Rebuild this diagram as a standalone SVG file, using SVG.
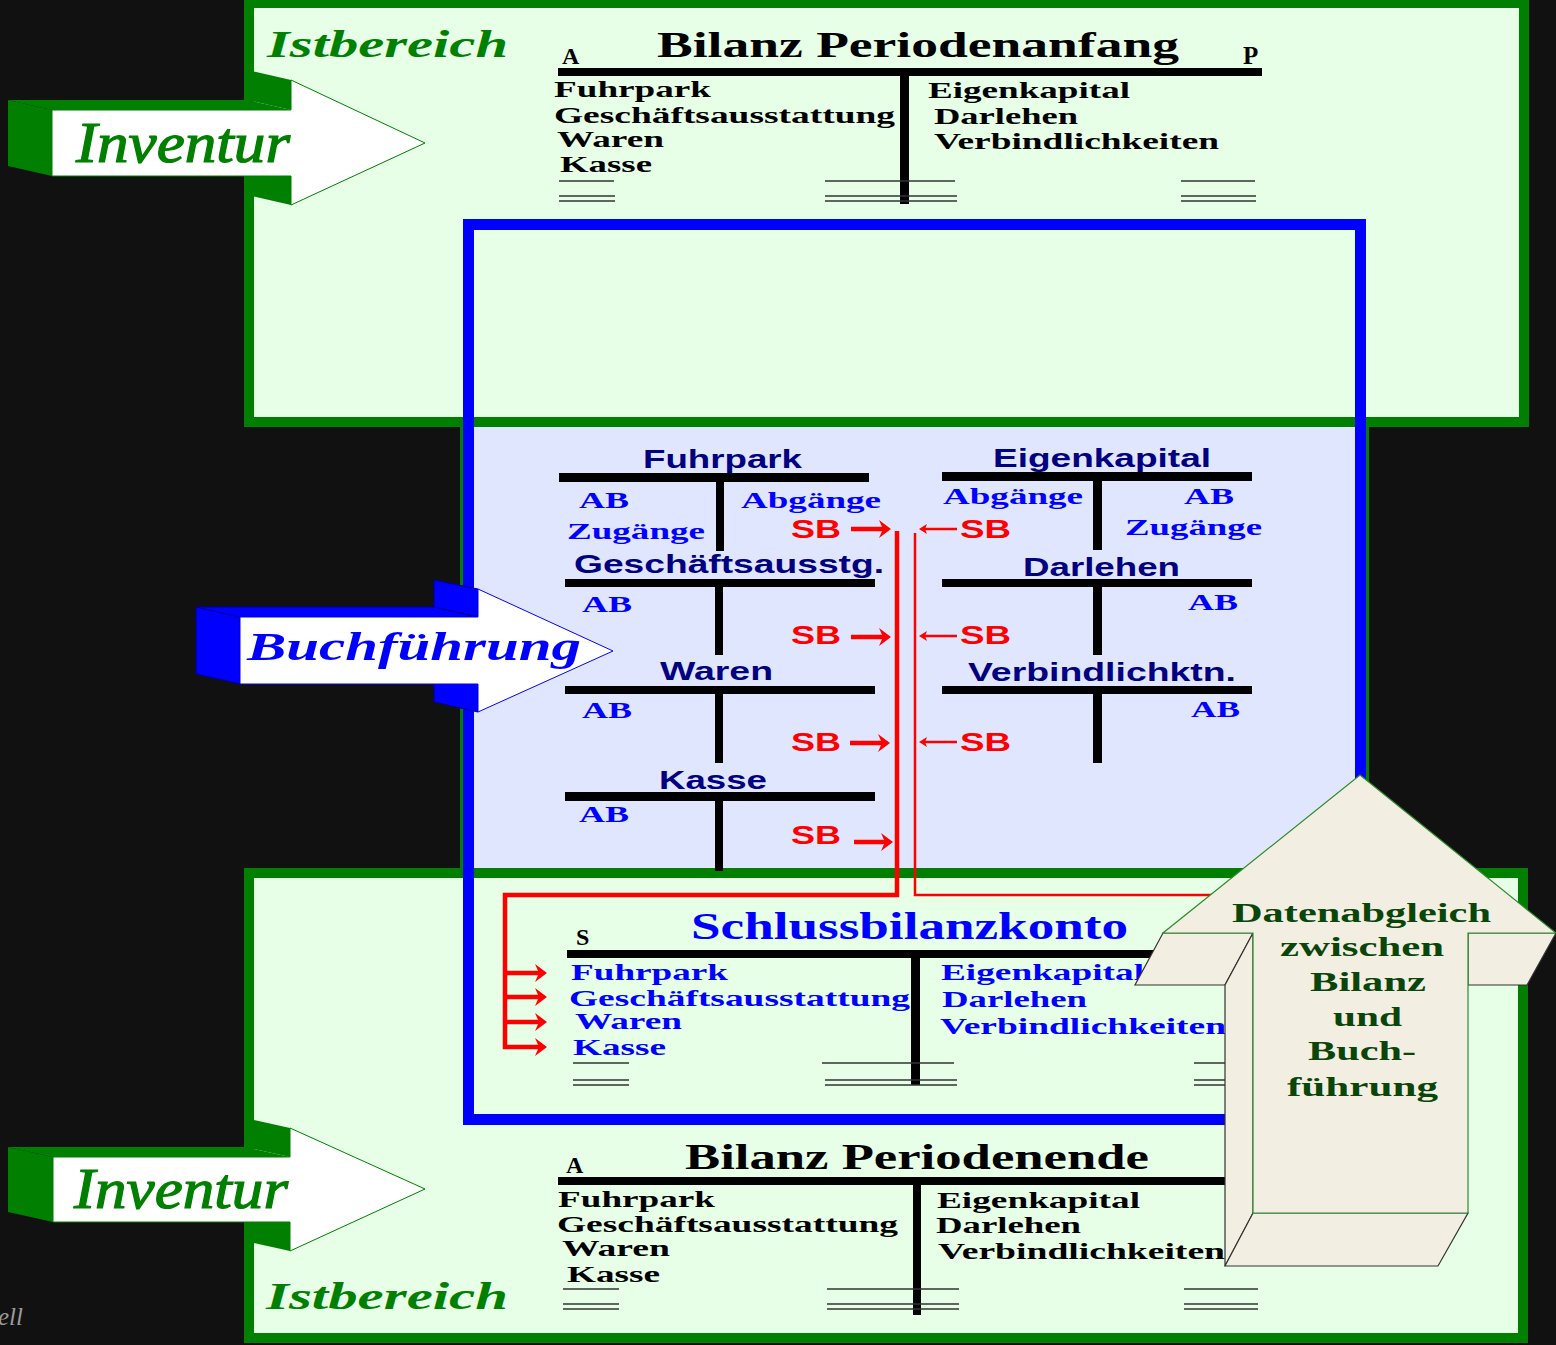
<svg xmlns="http://www.w3.org/2000/svg" width="1556" height="1345" viewBox="0 0 1556 1345">
<defs>
<style>
.sb{font-family:"Liberation Serif","Times New Roman",serif;font-weight:bold}
.si{font-family:"Liberation Serif","Times New Roman",serif;font-style:italic}
.sbi{font-family:"Liberation Serif","Times New Roman",serif;font-weight:bold;font-style:italic}
.ss{font-family:"Liberation Sans",Arial,sans-serif;font-weight:bold}
.blk{fill:#000}
.blu{fill:#0000FF}
.nav{fill:#000080}
.red{fill:#FF0000}
.grn{fill:#007F00}
.dg{fill:#0A450A}
.it{font-size:24px}
.tt{font-size:25px}
.bar{fill:#000}
.ul{stroke:#333;stroke-width:1.5;fill:none}
.box{fill:#E6FFE6;stroke:#007F00;stroke-width:10}
.face{fill:#007F00}
.bface{fill:#0000FF;stroke:#000090;stroke-width:1}
.tan{fill:#F3EEE2;stroke:#333;stroke-width:1.2}
.rthick{stroke:#FF0000;stroke-width:4.5;fill:none}
.rthin{stroke:#FF0000;stroke-width:2.5;fill:none}
.inv{stroke:#007F00;stroke-width:1.2}
</style>
<marker id="ahB" viewBox="0 0 12 18" refX="6" refY="9" markerWidth="12" markerHeight="18" markerUnits="userSpaceOnUse" orient="auto">
<path d="M0,0 L12,9 L0,18 L4,9 Z" fill="#FF0000"/>
</marker>
<marker id="ahS" viewBox="0 0 8 10" refX="3" refY="5" markerWidth="8" markerHeight="10" markerUnits="userSpaceOnUse" orient="auto">
<path d="M0,0 L8,5 L0,10 L2,5 Z" fill="#FF0000"/>
</marker>
</defs>

<rect id="background" x="0" y="0" width="1556" height="1345" fill="#111111"/>

<g id="region-buchfuehrung">
<rect x="461.5" y="421" width="906" height="456" fill="#E1E6FF" stroke="#007F00" stroke-width="3"/>
</g>

<g id="region-ist-oben">
<rect class="box" x="249" y="3" width="1275" height="419"/>
<text class="sbi grn" x="267" y="57" font-size="38" textLength="241" lengthAdjust="spacingAndGlyphs">Istbereich</text>
</g>

<g id="region-ist-unten">
<rect class="box" x="249" y="873" width="1274" height="465"/>
<text class="sbi grn" x="266" y="1309" font-size="38" textLength="242" lengthAdjust="spacingAndGlyphs">Istbereich</text>
</g>

<g id="bilanz-periodenanfang">
<text class="sb blk" x="657" y="57" font-size="35" textLength="522" lengthAdjust="spacingAndGlyphs">Bilanz Periodenanfang</text>
<text class="sb blk" x="562" y="64" font-size="24">A</text>
<text class="sb blk" x="1243" y="64" font-size="25">P</text>
<rect class="bar" x="558" y="68" width="704" height="8"/>
<rect class="bar" x="900" y="76" width="9" height="128"/>
<g class="sb blk it">
<text x="554" y="97" textLength="157" lengthAdjust="spacingAndGlyphs">Fuhrpark</text>
<text x="554" y="123" textLength="341" lengthAdjust="spacingAndGlyphs">Geschäftsausstattung</text>
<text x="557" y="147" textLength="107" lengthAdjust="spacingAndGlyphs">Waren</text>
<text x="560" y="172" textLength="92" lengthAdjust="spacingAndGlyphs">Kasse</text>
<text x="928" y="98" textLength="202" lengthAdjust="spacingAndGlyphs">Eigenkapital</text>
<text x="934" y="124" textLength="144" lengthAdjust="spacingAndGlyphs">Darlehen</text>
<text x="934" y="149" textLength="285" lengthAdjust="spacingAndGlyphs">Verbindlichkeiten</text>
</g>
<path class="ul" d="M559,181H614M559,196H615M559,201H615M825,181H955M825,196H957M825,201H957M1181,181H1255M1181,196H1256M1181,201H1256"/>
</g>

<g id="konto-fuhrpark">
<text class="ss nav tt" x="643" y="468" textLength="159" lengthAdjust="spacingAndGlyphs">Fuhrpark</text>
<rect class="bar" x="559" y="473" width="310" height="9"/>
<rect class="bar" x="716" y="482" width="8" height="69"/>
<text class="sb blu it" x="579" y="508" textLength="50" lengthAdjust="spacingAndGlyphs">AB</text>
<text class="sb blu it" x="567" y="539" textLength="138" lengthAdjust="spacingAndGlyphs">Zugänge</text>
<text class="sb blu it" x="741" y="508" textLength="140" lengthAdjust="spacingAndGlyphs">Abgänge</text>
<text class="ss red tt" x="791" y="538" textLength="50" lengthAdjust="spacingAndGlyphs">SB</text>
</g>

<g id="konto-geschaeftsausstattung">
<text class="ss nav tt" x="574" y="573" textLength="310" lengthAdjust="spacingAndGlyphs">Geschäftsausstg.</text>
<rect class="bar" x="565" y="579" width="310" height="8"/>
<rect class="bar" x="715" y="587" width="8" height="68"/>
<text class="sb blu it" x="582" y="612" textLength="50" lengthAdjust="spacingAndGlyphs">AB</text>
<text class="ss red tt" x="791" y="644" textLength="50" lengthAdjust="spacingAndGlyphs">SB</text>
</g>

<g id="konto-waren">
<text class="ss nav tt" x="660" y="680" textLength="113" lengthAdjust="spacingAndGlyphs">Waren</text>
<rect class="bar" x="565" y="686" width="310" height="8"/>
<rect class="bar" x="715" y="693" width="8" height="70"/>
<text class="sb blu it" x="582" y="718" textLength="50" lengthAdjust="spacingAndGlyphs">AB</text>
<text class="ss red tt" x="791" y="751" textLength="50" lengthAdjust="spacingAndGlyphs">SB</text>
</g>

<g id="konto-kasse">
<text class="ss nav tt" x="659" y="789" textLength="108" lengthAdjust="spacingAndGlyphs">Kasse</text>
<rect class="bar" x="565" y="792" width="310" height="9"/>
<rect class="bar" x="715" y="801" width="8" height="70"/>
<text class="sb blu it" x="579" y="822" textLength="50" lengthAdjust="spacingAndGlyphs">AB</text>
<text class="ss red tt" x="791" y="844" textLength="50" lengthAdjust="spacingAndGlyphs">SB</text>
</g>

<g id="konto-eigenkapital">
<text class="ss nav tt" x="993" y="467" textLength="218" lengthAdjust="spacingAndGlyphs">Eigenkapital</text>
<rect class="bar" x="942" y="472" width="310" height="9"/>
<rect class="bar" x="1093" y="481" width="9" height="69"/>
<text class="sb blu it" x="943" y="504" textLength="140" lengthAdjust="spacingAndGlyphs">Abgänge</text>
<text class="sb blu it" x="1184" y="504" textLength="50" lengthAdjust="spacingAndGlyphs">AB</text>
<text class="sb blu it" x="1125" y="535" textLength="137" lengthAdjust="spacingAndGlyphs">Zugänge</text>
<text class="ss red tt" x="960" y="538" textLength="51" lengthAdjust="spacingAndGlyphs">SB</text>
</g>

<g id="konto-darlehen">
<text class="ss nav tt" x="1023" y="576" textLength="157" lengthAdjust="spacingAndGlyphs">Darlehen</text>
<rect class="bar" x="942" y="579" width="310" height="8"/>
<rect class="bar" x="1093" y="587" width="9" height="68"/>
<text class="sb blu it" x="1188" y="610" textLength="50" lengthAdjust="spacingAndGlyphs">AB</text>
<text class="ss red tt" x="960" y="644" textLength="51" lengthAdjust="spacingAndGlyphs">SB</text>
</g>

<g id="konto-verbindlichkeiten">
<text class="ss nav tt" x="968" y="681" textLength="268" lengthAdjust="spacingAndGlyphs">Verbindlichktn.</text>
<rect class="bar" x="942" y="686" width="310" height="8"/>
<rect class="bar" x="1093" y="693" width="9" height="70"/>
<text class="sb blu it" x="1191" y="717" textLength="49" lengthAdjust="spacingAndGlyphs">AB</text>
<text class="ss red tt" x="960" y="751" textLength="51" lengthAdjust="spacingAndGlyphs">SB</text>
</g>

<g id="schlussbilanzkonto">
<text class="sb blu" x="691" y="939" font-size="38" textLength="437" lengthAdjust="spacingAndGlyphs">Schlussbilanzkonto</text>
<text class="sb blk" x="576" y="945" font-size="24">S</text>
<rect class="bar" x="567" y="950" width="700" height="8"/>
<rect class="bar" x="911" y="958" width="9" height="127"/>
<g class="sb blu it">
<text x="571" y="980" textLength="157" lengthAdjust="spacingAndGlyphs">Fuhrpark</text>
<text x="569" y="1006" textLength="341" lengthAdjust="spacingAndGlyphs">Geschäftsausstattung</text>
<text x="575" y="1029" textLength="107" lengthAdjust="spacingAndGlyphs">Waren</text>
<text x="573" y="1055" textLength="93" lengthAdjust="spacingAndGlyphs">Kasse</text>
<text x="941" y="980" textLength="203" lengthAdjust="spacingAndGlyphs">Eigenkapital</text>
<text x="942" y="1007" textLength="145" lengthAdjust="spacingAndGlyphs">Darlehen</text>
<text x="940" y="1034" textLength="286" lengthAdjust="spacingAndGlyphs">Verbindlichkeiten</text>
</g>
<path class="ul" d="M573,1063H629M573,1080H629M573,1085H629M822,1063H954M825,1080H957M825,1085H957M1194,1063H1256M1194,1080H1256M1194,1085H1256"/>
</g>

<g id="bilanz-periodenende">
<text class="sb blk" x="685" y="1169" font-size="35" textLength="464" lengthAdjust="spacingAndGlyphs">Bilanz Periodenende</text>
<text class="sb blk" x="566" y="1173" font-size="24">A</text>
<rect class="bar" x="558" y="1177" width="704" height="8"/>
<rect class="bar" x="913" y="1185" width="8" height="130"/>
<g class="sb blk it">
<text x="558" y="1207" textLength="157" lengthAdjust="spacingAndGlyphs">Fuhrpark</text>
<text x="557" y="1232" textLength="341" lengthAdjust="spacingAndGlyphs">Geschäftsausstattung</text>
<text x="562" y="1256" textLength="108" lengthAdjust="spacingAndGlyphs">Waren</text>
<text x="567" y="1282" textLength="93" lengthAdjust="spacingAndGlyphs">Kasse</text>
<text x="937" y="1208" textLength="203" lengthAdjust="spacingAndGlyphs">Eigenkapital</text>
<text x="936" y="1233" textLength="145" lengthAdjust="spacingAndGlyphs">Darlehen</text>
<text x="938" y="1259" textLength="287" lengthAdjust="spacingAndGlyphs">Verbindlichkeiten</text>
</g>
<path class="ul" d="M563,1289H619M563,1304H619M563,1309H619M827,1289H959M827,1304H959M827,1309H959M1184,1289H1258M1184,1304H1258M1184,1309H1258"/>
</g>

<g id="frame-buchfuehrung">
<rect x="468.5" y="224.5" width="892" height="895" fill="none" stroke="#0000FF" stroke-width="11"/>
</g>

<g id="connectors">
<path class="rthick" d="M897,531V895H505V1047H541" marker-end="url(#ahB)"/>
<line class="rthick" x1="505" y1="973" x2="541" y2="973" marker-end="url(#ahB)"/>
<line class="rthick" x1="505" y1="997" x2="541" y2="997" marker-end="url(#ahB)"/>
<line class="rthick" x1="505" y1="1022" x2="541" y2="1022" marker-end="url(#ahB)"/>
<path class="rthin" d="M915,533V895H1240"/>
<line class="rthick" x1="851" y1="529" x2="885" y2="529" marker-end="url(#ahB)"/>
<line class="rthick" x1="851" y1="637" x2="885" y2="637" marker-end="url(#ahB)"/>
<line class="rthick" x1="850" y1="743" x2="884" y2="743" marker-end="url(#ahB)"/>
<line class="rthick" x1="854" y1="842" x2="887" y2="842" marker-end="url(#ahB)"/>
<line class="rthin" x1="957" y1="529" x2="924" y2="529" marker-end="url(#ahS)"/>
<line class="rthin" x1="957" y1="636" x2="924" y2="636" marker-end="url(#ahS)"/>
<line class="rthin" x1="957" y1="742" x2="924" y2="742" marker-end="url(#ahS)"/>
</g>

<g id="pfeil-inventur-oben">
<polygon class="face" points="8,100 52,110 52,176 8,166"/>
<polygon class="face" points="8,100 247,100 291,110 52,110"/>
<polygon class="face" points="247,70 291,80 291,110 247,100"/>
<polygon class="face" points="247,166 291,176 291,205 247,195"/>
<path d="M52,110 L291,110 L291,80 L425,143 L291,205 L291,176 L52,176 Z" fill="#FFFFFF" stroke="#007F00" stroke-width="1"/>
<text class="si grn inv" x="76" y="162" font-size="58" textLength="214" lengthAdjust="spacingAndGlyphs">Inventur</text>
</g>

<g id="pfeil-inventur-unten">
<polygon class="face" points="8,1147 53,1157 53,1222 8,1212"/>
<polygon class="face" points="8,1147 245,1147 290,1157 53,1157"/>
<polygon class="face" points="245,1118 290,1128 290,1157 245,1147"/>
<polygon class="face" points="245,1212 290,1222 290,1251 245,1241"/>
<path d="M53,1157 L290,1157 L290,1128 L425,1189 L290,1251 L290,1222 L53,1222 Z" fill="#FFFFFF" stroke="#007F00" stroke-width="1"/>
<text class="si grn inv" x="74" y="1208" font-size="58" textLength="214" lengthAdjust="spacingAndGlyphs">Inventur</text>
</g>

<g id="pfeil-buchfuehrung">
<polygon class="bface" points="196,607 240,617 240,684 196,674"/>
<polygon class="bface" points="196,607 434,607 478,617 240,617"/>
<polygon class="bface" points="434,580 478,589 478,617 434,607"/>
<polygon class="bface" points="434,674 478,684 478,712 434,702"/>
<path d="M240,617 L478,617 L478,589 L613,651 L478,712 L478,684 L240,684 Z" fill="#FFFFFF" stroke="#0000FF" stroke-width="1"/>
<text class="sbi blu" x="247" y="660" font-size="40" textLength="334" lengthAdjust="spacingAndGlyphs">Buchführung</text>
</g>

<g id="pfeil-datenabgleich">
<polygon class="tan" points="1163,933 1253,933 1225,985 1135,985"/>
<polygon class="tan" points="1253,933 1253,1213 1225,1266 1225,985"/>
<polygon class="tan" points="1253,1213 1468,1213 1438,1266 1225,1266"/>
<polygon class="tan" points="1468,933 1556,933 1527,985 1468,985"/>
<path d="M1360,775 L1556,933 L1468,933 L1468,1213 L1253,1213 L1253,933 L1163,933 Z" fill="#F3EEE2" stroke="#2E8B2E" stroke-width="1.2"/>
<g class="sb dg" font-size="28">
<text x="1232" y="922" textLength="259" lengthAdjust="spacingAndGlyphs">Datenabgleich</text>
<text x="1280" y="956" textLength="164" lengthAdjust="spacingAndGlyphs">zwischen</text>
<text x="1310" y="991" textLength="116" lengthAdjust="spacingAndGlyphs">Bilanz</text>
<text x="1333" y="1026" textLength="69" lengthAdjust="spacingAndGlyphs">und</text>
<text x="1308" y="1060" textLength="108" lengthAdjust="spacingAndGlyphs">Buch-</text>
<text x="1287" y="1096" textLength="151" lengthAdjust="spacingAndGlyphs">führung</text>
</g>
</g>

<text class="si" x="-2" y="1325" font-size="25" fill="#9A9A9A">ell</text>
</svg>
